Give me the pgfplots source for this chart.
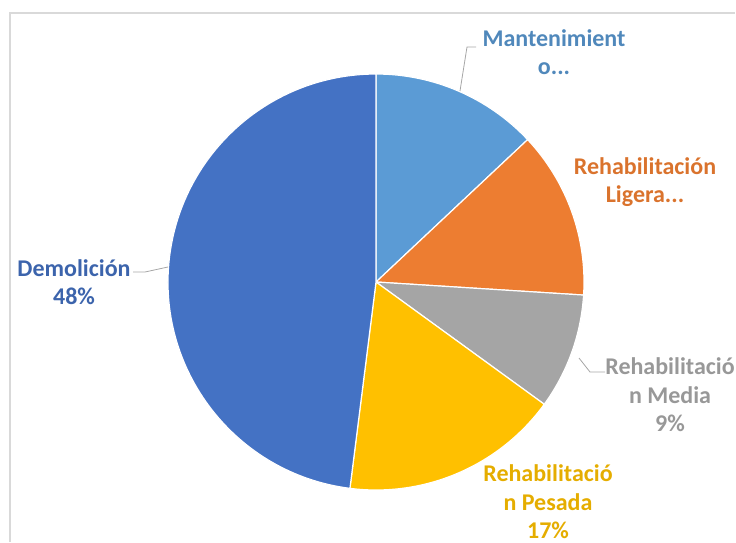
\documentclass[border=0pt]{standalone}
\usepackage{pgfplots}
\pgfplotsset{compat=1.18}
\usepackage{fontspec}
\setmainfont{Carlito}
\definecolor{cmant}{HTML}{5B9BD5}
\definecolor{clig}{HTML}{ED7D31}
\definecolor{cmed}{HTML}{A5A5A5}
\definecolor{cpes}{HTML}{FFC000}
\definecolor{cdem}{HTML}{4472C4}
\definecolor{frame}{HTML}{D9D9D9}
% values (percent), clockwise from 12 o'clock
\def\vMant{13}
\def\vLig{13}
\def\vMed{9}
\def\vPes{17}
\def\vDem{48}
\def\R{208pt}
\begin{document}
\begin{tikzpicture}
\begin{axis}[
  scale only axis, width=736pt, height=543pt,
  xmin=0, xmax=736, ymin=0, ymax=543, y dir=reverse,
  hide axis, clip=false,
]
% page extent
\path (axis cs:0,0) rectangle (axis cs:736,543);
% outer frame
\draw[frame, line width=1.5pt] (axis cs:10,542) -- (axis cs:10,13) -- (axis cs:735,13);
% slices
\pgfmathsetmacro\aA{90}
\pgfmathsetmacro\aB{90-3.6*\vMant}
\pgfmathsetmacro\aC{90-3.6*(\vMant+\vLig)}
\pgfmathsetmacro\aD{90-3.6*(\vMant+\vLig+\vMed)}
\pgfmathsetmacro\aE{90-3.6*(\vMant+\vLig+\vMed+\vPes)}
\pgfmathsetmacro\aF{90-3.6*(\vMant+\vLig+\vMed+\vPes+\vDem)}
\filldraw[fill=cmant, draw=white, line width=1.2pt] (axis cs:376,282) -- ++(\aA:\R) arc[start angle=\aA, end angle=\aB, radius=\R] -- cycle;
\filldraw[fill=clig, draw=white, line width=1.2pt] (axis cs:376,282) -- ++(\aB:\R) arc[start angle=\aB, end angle=\aC, radius=\R] -- cycle;
\filldraw[fill=cmed, draw=white, line width=1.2pt] (axis cs:376,282) -- ++(\aC:\R) arc[start angle=\aC, end angle=\aD, radius=\R] -- cycle;
\filldraw[fill=cpes, draw=white, line width=1.2pt] (axis cs:376,282) -- ++(\aD:\R) arc[start angle=\aD, end angle=\aE, radius=\R] -- cycle;
\filldraw[fill=cdem, draw=white, line width=1.2pt] (axis cs:376,282) -- ++(\aE:\R) arc[start angle=\aE, end angle=\aF, radius=\R] -- cycle;
% leader lines
\draw[gray!70, line width=0.8pt] (axis cs:460,91) -- (axis cs:467,47) -- (axis cs:476,47);
\draw[gray!70, line width=0.8pt] (axis cs:168,267) -- (axis cs:145,272) -- (axis cs:133,272);
\draw[gray!70, line width=0.8pt] (axis cs:579,358) -- (axis cs:590,372) -- (axis cs:605,372);
% labels
\tikzset{lab/.style={align=center, inner sep=0pt, font=\fontsize{24}{28.5}\selectfont\bfseries}}
\node[lab, text=cmant!88!black] at (axis cs:554,52) {Mantenimient\\o...};
\node[lab, text=clig!92!black] at (axis cs:645,182) {Rehabilitación\\Ligera...};
\node[lab, text=cmed!92!black] at (axis cs:670,395) {Rehabilitació\\n Media\\9\%};
\node[lab, text=cpes!90!black] at (axis cs:548,502) {Rehabilitació\\n Pesada\\17\%};
\node[lab, text=cdem!88!black] at (axis cs:74,282) {Demolición\\48\%};
\end{axis}
\end{tikzpicture}
\end{document}
